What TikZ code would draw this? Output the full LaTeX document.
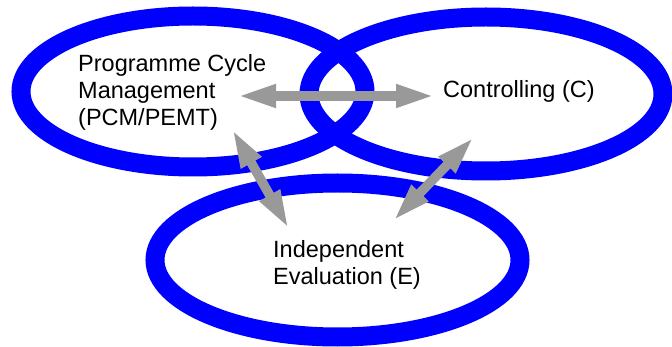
\documentclass[tikz,border=0pt]{standalone}
\usepackage{fontspec}
\setmainfont{Liberation Sans}
\usetikzlibrary{arrows.meta}

\definecolor{ringblue}{RGB}{0,0,255}
\definecolor{arrowgray}{RGB}{153,153,153}

\tikzset{
    ring/.style={draw=ringblue, line width=19pt},
    label/.style={anchor=base west, inner sep=0pt, align=left,
        font=\fontsize{23.5}{27}\selectfont},
    link/.style={draw=arrowgray, line width=9.5pt,
        {Triangle[length=39pt,width=21pt]}-{Triangle[length=39pt,width=21pt]}},
}

\begin{document}
\begin{tikzpicture}[x=1pt,y=-1pt]
        \useasboundingbox (0,0) rectangle (672,347);
        % the three rings
        \draw[ring] (193,91.5) ellipse [x radius=172pt, y radius=75.5pt];
        \draw[ring] (486,94) ellipse [x radius=177pt, y radius=77pt];
        \draw[ring] (337.5,260) ellipse [x radius=182.5pt, y radius=77pt];
        % labels (base = last line)
        \node[label] (pcm) at (78,126) {Programme Cycle\\Management\\(PCM/PEMT)};
        \node[label] (ctrl) at (443,98) {Controlling (C)};
        \node[label] (eval) at (273,285) {Independent\\Evaluation (E)};
        % arrow ends
        \coordinate (pcmR) at (237,96);
        \coordinate (pcmB) at (232,129);
        \coordinate (ctrlL) at (435,96);
        \coordinate (ctrlB) at (474,137);
        \coordinate (evalL) at (289,229);
        \coordinate (evalR) at (393,221);
        % two-way links
        \draw[link] (pcmR) -- (ctrlL);
        \draw[link] (pcmB) -- (evalL);
        \draw[link] (ctrlB) -- (evalR);
    \end{tikzpicture}
\end{document}
